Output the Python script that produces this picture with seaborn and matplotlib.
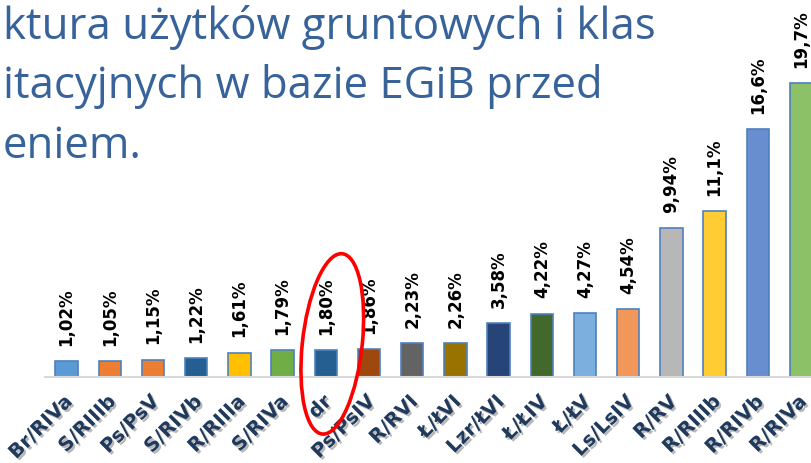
import numpy as np
import pandas as pd
import matplotlib
matplotlib.use("Agg")
import matplotlib.pyplot as plt
import matplotlib.patheffects as pe
import matplotlib.transforms as mtransforms
from matplotlib.patches import Ellipse
import seaborn as sns

# Dane
categories = ["Br/RIVa", "S/RIIIb", "Ps/PsV", "S/RIVb", "R/RIIIa", "S/RIVa", "dr",
              "Ps/PsIV", "R/RVI", "Ł/ŁVI", "Lzr/ŁVI", "Ł/ŁIV", "Ł/ŁV", "Ls/LsIV",
              "R/RV", "R/RIIIb", "R/RIVb", "R/RIVa"]
values = [1.02, 1.05, 1.15, 1.22, 1.61, 1.79, 1.80, 1.86, 2.23, 2.26, 3.58,
          4.22, 4.27, 4.54, 9.94, 11.1, 16.6, 19.7]
value_labels = ["1,02%", "1,05%", "1,15%", "1,22%", "1,61%", "1,79%", "1,80%",
                "1,86%", "2,23%", "2,26%", "3,58%", "4,22%", "4,27%", "4,54%",
                "9,94%", "11,1%", "16,6%", "19,7%"]
bar_colors = ["#5B9BD5", "#ED7D31", "#ED7D31", "#255E91", "#FFC000", "#70AD47",
              "#255E91", "#9E480E", "#636363", "#997300", "#264478", "#43682B",
              "#7CAFDD", "#F1975A", "#B7B7B7", "#FFCD33", "#698ED0", "#8CC168"]
title_lines = ["ktura użytków gruntowych i klas",
               "itacyjnych w bazie EGiB przed",
               "eniem."]
highlight = "dr"

df = pd.DataFrame({"kategoria": categories, "wartosc": values})

sns.set_theme(style="white")
plt.rcParams['font.family'] = ['DejaVu Sans']

fig = plt.figure(figsize=(8.12, 4.63), dpi=100)
ax = fig.add_axes([45 / 812, 86.3 / 463, 777.6 / 812, 376.7 / 463])

sns.barplot(data=df, x="kategoria", y="wartosc", hue="kategoria",
            palette=bar_colors, legend=False, width=0.52,
            edgecolor="#4F81BD", linewidth=1.2, ax=ax, saturation=1)

ax.set_xlim(-0.5, len(categories) - 0.5)
ax.set_ylim(0, 25.25)
ax.set_xlabel("")
ax.set_ylabel("")
ax.set_yticks([])
for side in ["top", "right", "left"]:
    ax.spines[side].set_visible(False)
ax.spines["bottom"].set_color("#D9D9D9")
ax.spines["bottom"].set_linewidth(1.5)

# Etykiety wartości
for i, (v, lab) in enumerate(zip(values, value_labels)):
    ax.annotate(lab, (i, v), xytext=(0, 11), textcoords="offset points",
                rotation=90, ha="center", va="bottom", fontsize=12,
                fontweight="bold", color="black")

# Etykiety osi X
ax.set_xticks(range(len(categories)))
ax.set_xticklabels(categories, rotation=45, ha="right", rotation_mode="anchor",
                   fontsize=14, fontweight="bold", color="#1F3A5C")
ax.tick_params(axis="x", length=0, pad=11)
shift = mtransforms.ScaledTranslation(-4 / 100, 0, fig.dpi_scale_trans)
for t in ax.get_xticklabels():
    t.set_transform(t.get_transform() + shift)
    t.set_path_effects([pe.withSimplePatchShadow(offset=(1.5, -1.5),
                                                  shadow_rgbFace="#9A9A9A", alpha=0.7)])

# Zaznaczenie
hi = categories.index(highlight)
ell = Ellipse((hi + 0.15, 2.2), width=1.39, height=12.1, angle=-2,
              fill=False, edgecolor="#FF0000", linewidth=2.6,
              clip_on=False, zorder=5)
ax.add_patch(ell)

# Tytuł
for k, (line, y) in enumerate(zip(title_lines, [39, 98, 158])):
    fig.text(3 / 812, 1 - y / 463, line, fontsize=31.5, color="#37639A",
             family="Open Sans", ha="left", va="baseline")

fig.savefig("out.png", dpi=100)
